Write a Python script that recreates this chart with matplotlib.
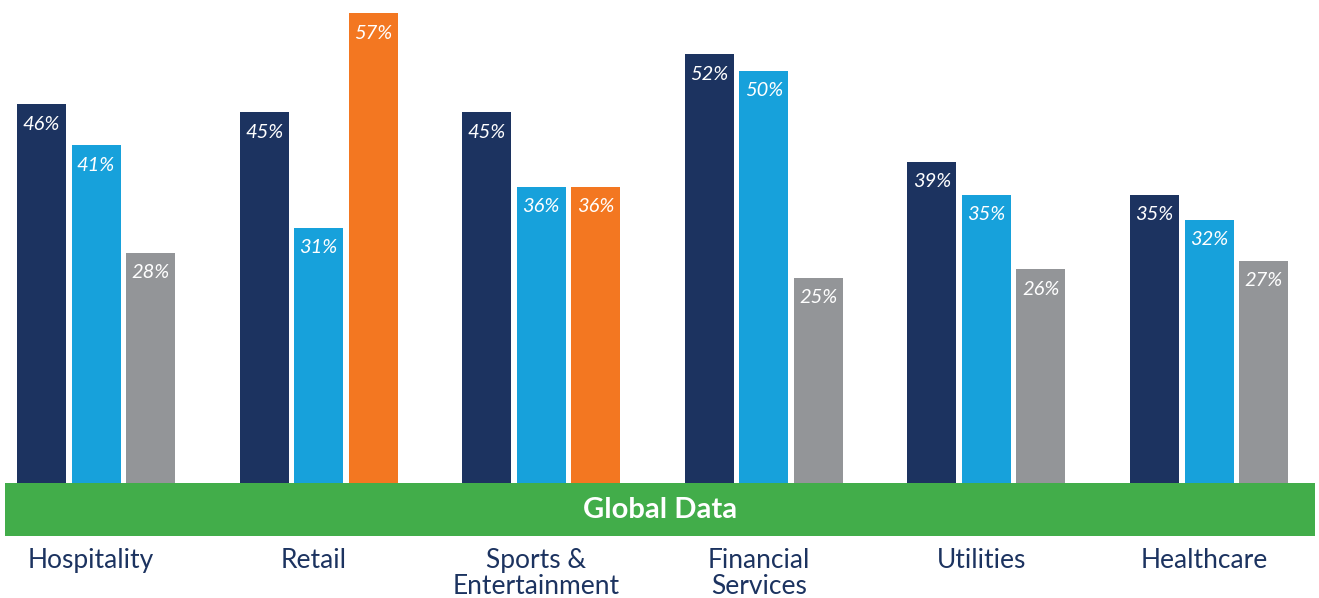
import matplotlib
matplotlib.use("Agg")
import matplotlib.pyplot as plt
from matplotlib.patches import Rectangle

plt.rcParams['font.family'] = ['Lato', 'DejaVu Sans']

categories = ["Hospitality", "Retail", "Sports &\nEntertainment", "Financial\nServices", "Utilities", "Healthcare"]
series1 = [46, 45, 45, 52, 39, 35]
series2 = [41, 31, 36, 50, 35, 32]
series3 = [28, 57, 36, 25, 26, 27]
series3_colors = ["#939598", "#f37721", "#f37721", "#939598", "#939598", "#939598"]
band_label = "Global Data"

NAVY = "#1c3360"
BLUE = "#17a1db"
GREEN = "#42ad4a"

W, H = 1319, 598
fig = plt.figure(figsize=(W / 100, H / 100), dpi=100)
base_px = 484
ax = fig.add_axes([0, 1 - base_px / H, 1, base_px / H])
px_per_unit = 222.6
x0 = 96.0
ax.set_xlim(-x0 / px_per_unit, (W - x0) / px_per_unit)
ax.set_ylim(0, base_px / 8.26)
ax.axis('off')

bw = 49 / px_per_unit
off = 54.5 / px_per_unit
xs = list(range(len(categories)))
for vals, dx, cols in [(series1, -off, [NAVY] * 6), (series2, 0, [BLUE] * 6), (series3, off, series3_colors)]:
    pos = [x + dx for x in xs]
    bars = ax.bar(pos, vals, width=bw, color=cols, linewidth=0)
    for b, v in zip(bars, vals):
        ax.annotate(f"{v}%", (b.get_x() + b.get_width() / 2, v), xytext=(0, -20),
                    textcoords='offset pixels', ha='center', va='center',
                    color='white', fontsize=14.5, style='italic')

# Green band
fig.patches.append(Rectangle((5 / W, 1 - 536 / H), 1310 / W, 53 / H, transform=fig.transFigure,
                             facecolor=GREEN, edgecolor='none'))
fig.text(660 / W, 1 - 510 / H, band_label, ha='center', va='center', color='white',
         fontsize=21, fontweight='bold')

# Category labels
for x, c in zip(xs, categories):
    ax.annotate(c, (x, 0), xytext=(-5, -64), textcoords='offset pixels', ha='center', va='top',
                color=NAVY, fontsize=19, linespacing=1.05,
                annotation_clip=False)

fig.savefig("out.png", dpi=100)
